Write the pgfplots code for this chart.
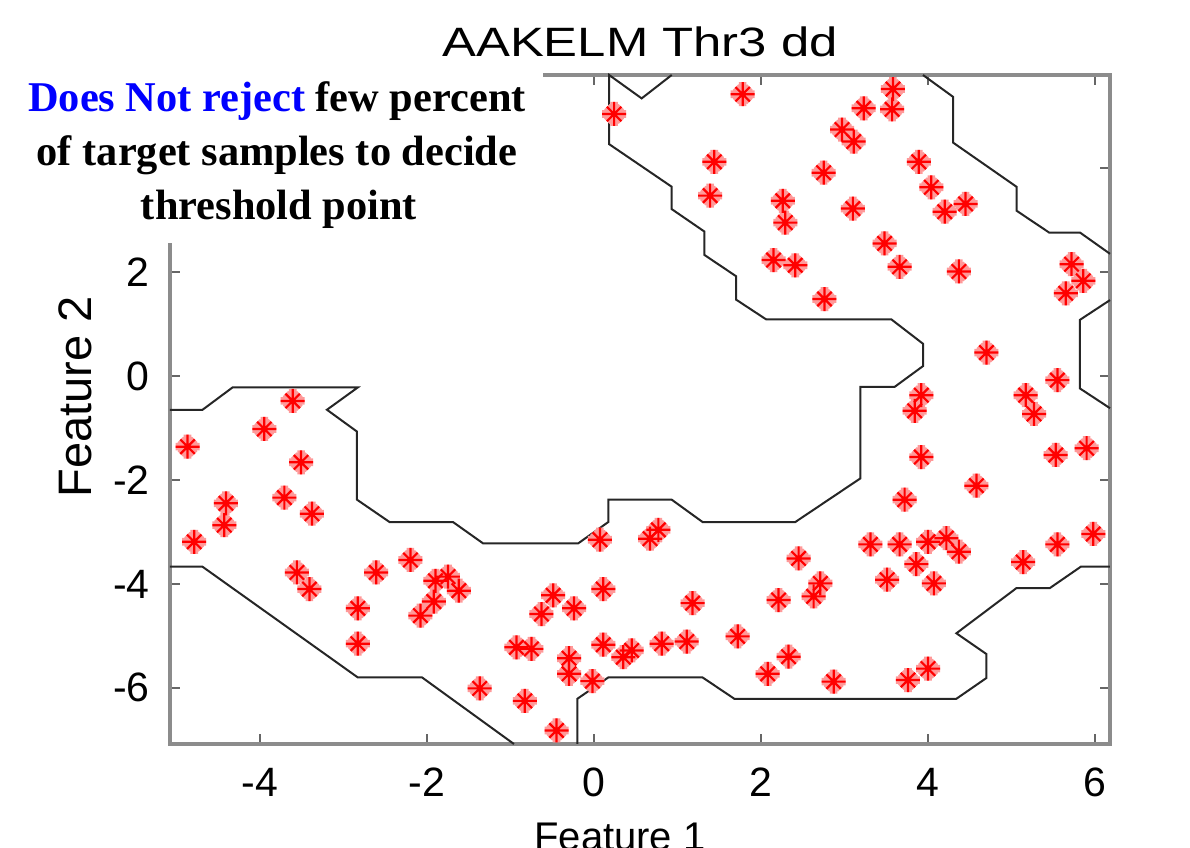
\documentclass[border=0pt]{standalone}
\usepackage{graphicx}
\usepackage{pgfplots}
\pgfplotsset{compat=1.18}
\usepackage{pgfplotstable}
\usepackage{fontspec}
\setmainfont{Liberation Sans}
\newfontfamily\tnr{Liberation Serif}

\pgfdeclareplotmark{mstar}{%
  \pgfpathmoveto{\pgfqpoint{-\pgfplotmarksize}{0pt}}%
  \pgfpathlineto{\pgfqpoint{\pgfplotmarksize}{0pt}}%
  \pgfpathmoveto{\pgfqpoint{0pt}{-\pgfplotmarksize}}%
  \pgfpathlineto{\pgfqpoint{0pt}{\pgfplotmarksize}}%
  \pgfpathmoveto{\pgfqpoint{-0.6\pgfplotmarksize}{-0.6\pgfplotmarksize}}%
  \pgfpathlineto{\pgfqpoint{0.6\pgfplotmarksize}{0.6\pgfplotmarksize}}%
  \pgfpathmoveto{\pgfqpoint{-0.6\pgfplotmarksize}{0.6\pgfplotmarksize}}%
  \pgfpathlineto{\pgfqpoint{0.6\pgfplotmarksize}{-0.6\pgfplotmarksize}}%
  \pgfusepathqstroke}

\pgfplotstableread{
x y
-3.61 -0.48
-3.95 -1.02
-4.87 -1.36
-3.51 -1.66
-4.41 -2.45
-3.71 -2.34
-3.38 -2.65
-4.43 -2.87
-4.79 -3.19
-3.56 -3.78
-3.41 -4.10
-2.83 -4.47
-2.83 -5.15
-2.61 -3.78
-2.20 -3.54
-1.90 -3.94
-1.75 -3.86
-1.62 -4.13
-1.92 -4.34
-2.08 -4.61
-1.37 -6.01
0.07 -3.15
0.77 -2.96
0.67 -3.13
0.11 -4.10
-0.49 -4.22
-0.63 -4.58
-0.24 -4.47
1.18 -4.37
2.21 -4.31
-0.93 -5.22
-0.75 -5.25
0.11 -5.17
0.35 -5.41
0.45 -5.28
0.81 -5.15
1.11 -5.11
1.72 -5.01
2.33 -5.40
2.08 -5.73
-0.30 -5.43
-0.30 -5.73
-0.02 -5.87
-0.83 -6.25
-0.45 -6.82
2.45 -3.51
2.71 -3.99
2.63 -4.24
3.31 -3.24
3.66 -3.24
4.00 -3.19
4.22 -3.12
4.37 -3.38
3.86 -3.62
3.51 -3.92
4.07 -3.99
5.14 -3.58
5.55 -3.24
5.98 -3.04
2.87 -5.88
3.76 -5.85
4.00 -5.63
3.84 -0.67
3.92 -0.37
5.27 -0.73
5.17 -0.37
5.55 -0.08
4.70 0.45
3.92 -1.56
5.53 -1.52
5.90 -1.39
4.58 -2.11
3.72 -2.38
0.24 5.04
1.78 5.42
1.44 4.12
1.39 3.47
2.26 3.37
2.29 2.95
2.15 2.23
2.41 2.13
3.58 5.52
3.23 5.15
3.57 5.13
2.97 4.74
3.11 4.51
3.89 4.12
2.75 3.91
4.04 3.63
3.10 3.22
4.20 3.16
4.45 3.31
3.48 2.55
3.66 2.10
4.37 2.01
2.76 1.48
5.72 2.15
5.86 1.83
5.65 1.59
}\pts

\begin{document}
\begin{tikzpicture}
\begin{axis}[
  at={(0pt,0pt)}, anchor=south west,
  scale only axis, width=470pt, height=334.5pt,
  xmin=-5.08, xmax=6.18, ymin=-7.08, ymax=5.79,
  xtick={-4,-2,0,2,4,6}, xticklabels={-4,-2,0,2,4,6},
  ytick={-6,-4,-2,0,2,4}, yticklabels={-6,-4,-2,0,2,{}},
  tick align=inside, major tick length=5pt,
  tick style={black!60, line width=0.8pt},
  axis line style={black!45, line width=2.4pt},
  ticklabel style={font=\fontsize{20.5}{24}\selectfont},
  xticklabel style={anchor=base, yshift=-26.5pt},
  yticklabel style={anchor=east, inner sep=0pt, xshift=-10pt},
  clip=false,
]
\addplot[black!85, line width=1pt] coordinates {
(-5.08,-0.65) (-4.69,-0.65) (-4.33,-0.22) (-2.83,-0.22) (-3.20,-0.65)
(-2.84,-1.07) (-2.84,-2.38) (-2.45,-2.81) (-1.69,-2.81) (-1.33,-3.22)
(-0.19,-3.22) (0.17,-2.81) (0.17,-2.38) (0.93,-2.38) (1.30,-2.81)
(2.41,-2.81) (3.19,-1.97) (3.19,-0.21) (3.60,-0.21) (3.94,0.19)
(3.94,0.62) (3.56,1.09) (2.06,1.09) (1.70,1.47) (1.70,1.92)
(1.32,2.33) (1.32,2.78) (0.93,3.21) (0.93,3.64) (0.18,4.46)
(0.18,5.79) (0.57,5.34) (0.93,5.79)};
\addplot[black!85, line width=1pt] coordinates {
(3.94,5.79) (4.30,5.37) (4.30,4.49) (5.06,3.64) (5.06,3.18)
(5.45,2.76) (5.82,2.76) (6.18,2.35)};
\addplot[black!85, line width=1pt] coordinates {
(6.18,1.46) (5.82,1.08) (5.82,-0.24) (6.18,-0.62)};
\addplot[black!85, line width=1pt] coordinates {
(-5.08,-3.67) (-4.69,-3.67) (-2.83,-5.80) (-2.06,-5.80) (-0.96,-7.08)};
\addplot[black!85, line width=1pt] coordinates {
(-0.20,-7.08) (-0.20,-6.21) (0.17,-5.80) (1.30,-5.80) (1.68,-6.21)
(4.34,-6.21) (4.70,-5.81) (4.70,-5.35) (4.34,-4.95) (5.06,-4.08)
(5.46,-4.08) (5.83,-3.67) (6.18,-3.67)};
\addplot[only marks, mark=mstar, mark size=6pt, mark options={draw=red!40, line width=3.8pt}] table {\pts};
\addplot[only marks, mark=mstar, mark size=6pt, mark options={draw=red, line width=1.1pt}] table {\pts};
\end{axis}
\fill[white] (-90pt,250.5pt) rectangle (186.5pt,338pt);
\node[anchor=base, inner sep=0pt, font=\tnr\bfseries\fontsize{21.2}{25}\selectfont] at (53.5pt,316pt) {\textcolor{blue}{Does Not reject} few percent};
\node[anchor=base, inner sep=0pt, font=\tnr\bfseries\fontsize{21.2}{25}\selectfont] at (53.5pt,289pt) {of target samples to decide};
\node[anchor=base, inner sep=0pt, font=\tnr\bfseries\fontsize{21.2}{25}\selectfont] at (54.5pt,262pt) {threshold point};
\node[anchor=base, inner sep=0pt, font=\fontsize{20.5}{24}\selectfont] at (235pt,343.5pt) {\scalebox{1.24}[1]{AAKELM Thr3 dd}};
\node[anchor=base, inner sep=0pt, font=\fontsize{20}{24}\selectfont] at (225pt,-53.3pt) {Feature 1};
\node[anchor=base, inner sep=0pt, rotate=90, font=\fontsize{23.5}{28}\selectfont] at (-39pt,173.5pt) {Feature 2};
\pgfresetboundingbox
\useasboundingbox (-85pt,-51.5pt) rectangle (510pt,372pt);
\end{tikzpicture}
\end{document}
